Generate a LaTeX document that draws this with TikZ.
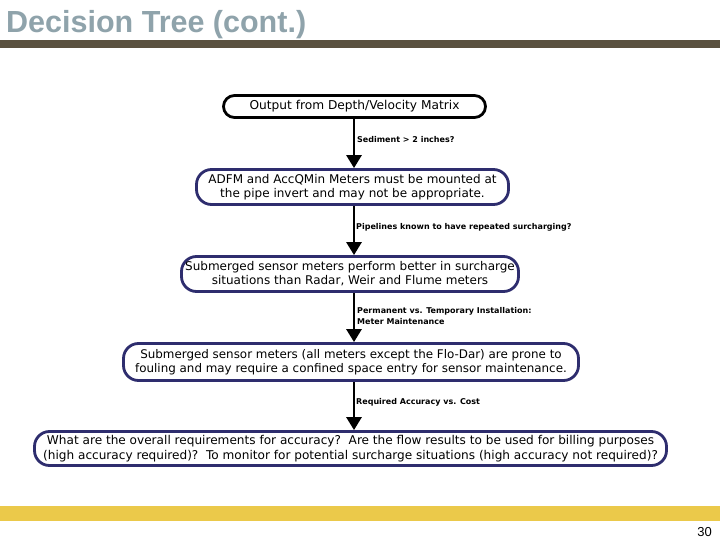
\documentclass[tikz,border=0pt]{standalone}
\usepackage{fontspec}
\setmainfont{DejaVu Sans}
\newfontfamily\titlefont{Liberation Sans}
\usetikzlibrary{arrows.meta}
\definecolor{titlegray}{HTML}{8FA3AB}
\definecolor{darkbar}{HTML}{5A5140}
\definecolor{yellowbar}{HTML}{EBC94A}
\definecolor{navy}{HTML}{2E2D6E}
\begin{document}
\begin{tikzpicture}[x=1pt,y=-1pt,
  box/.style={draw=navy, line width=2.8pt, rounded corners=15pt, align=center, inner sep=0pt},
  lbl/.style={anchor=west, align=left, font=\fontsize{8}{11}\selectfont\bfseries, inner sep=0pt},
  flow/.style={line width=2.8pt, -{Triangle[width=15pt,length=13pt]}}]
\useasboundingbox (0,0) rectangle (720,540);
\fill[white] (0,0) rectangle (720,540);
% title and bars
\node[anchor=base west, inner sep=0pt, text=titlegray, font=\titlefont\bfseries\fontsize{30.5}{32}\selectfont] (title) at (6,33) {Decision Tree (cont.)};
\fill[darkbar] (0,40) rectangle (720,48.5);
\fill[yellowbar] (0,506) rectangle (720,521);
\node[anchor=base east, inner sep=0pt, font=\titlefont\fontsize{13}{14}\selectfont] (pg) at (712,536) {30};
% boxes
\node[box, draw=black, rounded corners=11pt, minimum width=262pt, minimum height=22pt, font=\fontsize{12.2}{14}\selectfont] (b1) at (354.5,106.5) {Output from Depth/Velocity Matrix};
\node[box, minimum width=312pt, minimum height=35pt, font=\fontsize{12}{14}\selectfont] (b2) at (352.5,187) {ADFM and AccQMin Meters must be mounted at\\the pipe invert and may not be appropriate.};
\node[box, minimum width=337pt, minimum height=35pt, font=\fontsize{12}{14}\selectfont] (b3) at (350,274) {Submerged sensor meters perform better in surcharge\\situations than Radar, Weir and Flume meters};
\node[box, minimum width=455pt, minimum height=37pt, font=\fontsize{11.9}{14.5}\selectfont] (b4) at (351,362) {Submerged sensor meters (all meters except the Flo-Dar) are prone to\\fouling and may require a confined space entry for sensor maintenance.};
\node[box, minimum width=632pt, minimum height=34pt, font=\fontsize{12.1}{15}\selectfont] (b5) at (350.5,448.5) {What are the overall requirements for accuracy?\ \ Are the flow results to be used for billing purposes\\(high accuracy required)?\ \ To monitor for potential surcharge situations (high accuracy not required)?};
% connectors
\coordinate (ax) at (354,0);
\draw[flow] (b1.south -| ax) -- (b2.north -| ax);
\draw[flow] (b2.south -| ax) -- (b3.north -| ax);
\draw[flow] (b3.south -| ax) -- (b4.north -| ax);
\draw[flow] (b4.south -| ax) -- (b5.north -| ax);
% labels
\node[lbl] (l1) at (357,140) {Sediment > 2 inches?};
\node[lbl] (l2) at (356,227) {Pipelines known to have repeated surcharging?};
\node[lbl] (l3) at (357,316.5) {Permanent vs. Temporary Installation:\\Meter Maintenance};
\node[lbl] (l4) at (356,402) {Required Accuracy vs. Cost};
\end{tikzpicture}
\end{document}
